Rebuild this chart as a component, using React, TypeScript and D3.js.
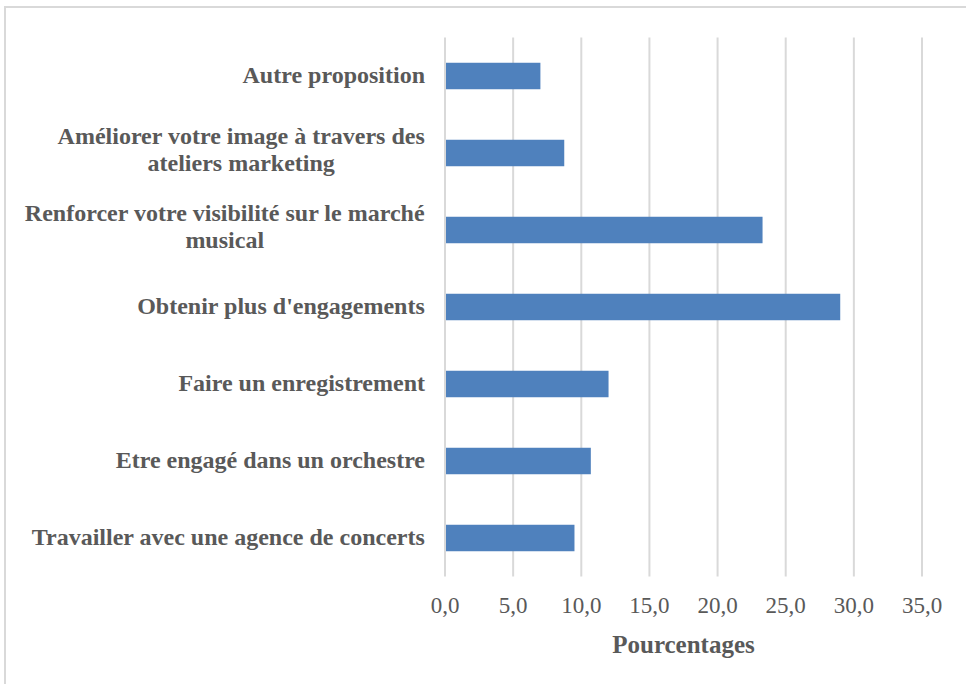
import React from "react";
import * as d3 from "d3";

const categories: string[][] = [
  ["Autre proposition"],
  ["Améliorer votre image à travers des", "ateliers marketing"],
  ["Renforcer votre visibilité sur le marché", "musical"],
  ["Obtenir plus d'engagements"],
  ["Faire un enregistrement"],
  ["Etre engagé dans un orchestre"],
  ["Travailler avec une agence de concerts"],
];
const values: number[] = [7.0, 8.75, 23.3, 29.0, 12.0, 10.7, 9.5];
const xTicks: number[] = [0, 5, 10, 15, 20, 25, 30, 35];
const axisTitle = "Pourcentages";

const W = 966;
const H = 684;
const plot = { left: 445, right: 922, top: 37.5, bottom: 576.5 };
const textColor = "#595959";
const gridColor = "#d9d9d9";
const barColor = "#4f81bd";
const font = "'Liberation Serif', 'Times New Roman', serif";
const labelRight = 425;

let ctx: CanvasRenderingContext2D | null = null;
function measure(s: string, size: number, bold: boolean): number {
  if (!ctx && typeof document !== "undefined") {
    ctx = document.createElement("canvas").getContext("2d");
  }
  if (!ctx) return s.length * size * 0.45;
  ctx.font = `${bold ? "bold " : ""}${size}px 'Liberation Serif'`;
  return ctx.measureText(s).width;
}

export default function App() {
  const x = d3.scaleLinear().domain([0, 35]).range([plot.left, plot.right]);
  const y = d3
    .scaleBand<number>()
    .domain(d3.range(categories.length))
    .range([plot.top, plot.bottom])
    .paddingInner(0.656)
    .paddingOuter(0.328);
  const fmt = (v: number) => d3.format(".1f")(v).replace(".", ",");
  const lineH = 26.7;

  return (
    <svg
      width={W}
      height={H}
      style={{ position: "absolute", left: 0, top: 0, background: "#fff" }}
      fontFamily={font}
    >
      <rect x={0} y={0} width={W} height={H} fill="#fff" />
      <rect x={5} y={7} width={W + 20} height={H + 20} fill="none" stroke={gridColor} strokeWidth={2} />
      {xTicks.map((t) => (
        <line
          key={"g" + t}
          x1={x(t)}
          x2={x(t)}
          y1={plot.top}
          y2={plot.bottom}
          stroke={gridColor}
          strokeWidth={2}
        />
      ))}
      {values.map((v, i) => (
        <rect
          key={"b" + i}
          x={x(0) + 1}
          y={y(i)!}
          width={x(v) - x(0) - 1}
          height={y.bandwidth()}
          fill={barColor}
        />
      ))}
      {categories.map((lines, i) => {
        const c = y(i)! + y.bandwidth() / 2;
        const n = lines.length;
        const base = n === 1 ? c + 7 : c + 4.5 - ((n - 1) * lineH) / 2;
        const w0 = Math.max(...lines.map((l) => measure(l, 24, true)));
        const cx = labelRight - w0 / 2;
        return (
          <text
            key={"c" + i}
            textAnchor="middle"
            fontWeight="bold"
            fontSize={24}
            fill={textColor}
          >
            {lines.map((l, j) => (
              <tspan key={j} x={cx} y={base + j * lineH}>
                {l}
              </tspan>
            ))}
          </text>
        );
      })}
      {xTicks.map((t) => (
        <text
          key={"t" + t}
          x={x(t)}
          y={613}
          textAnchor="middle"
          fontSize={23}
          fill={textColor}
        >
          {fmt(t)}
        </text>
      ))}
      <text
        x={(plot.left + plot.right) / 2}
        y={653}
        textAnchor="middle"
        fontWeight="bold"
        fontSize={25}
        fill={textColor}
      >
        {axisTitle}
      </text>
    </svg>
  );
}
